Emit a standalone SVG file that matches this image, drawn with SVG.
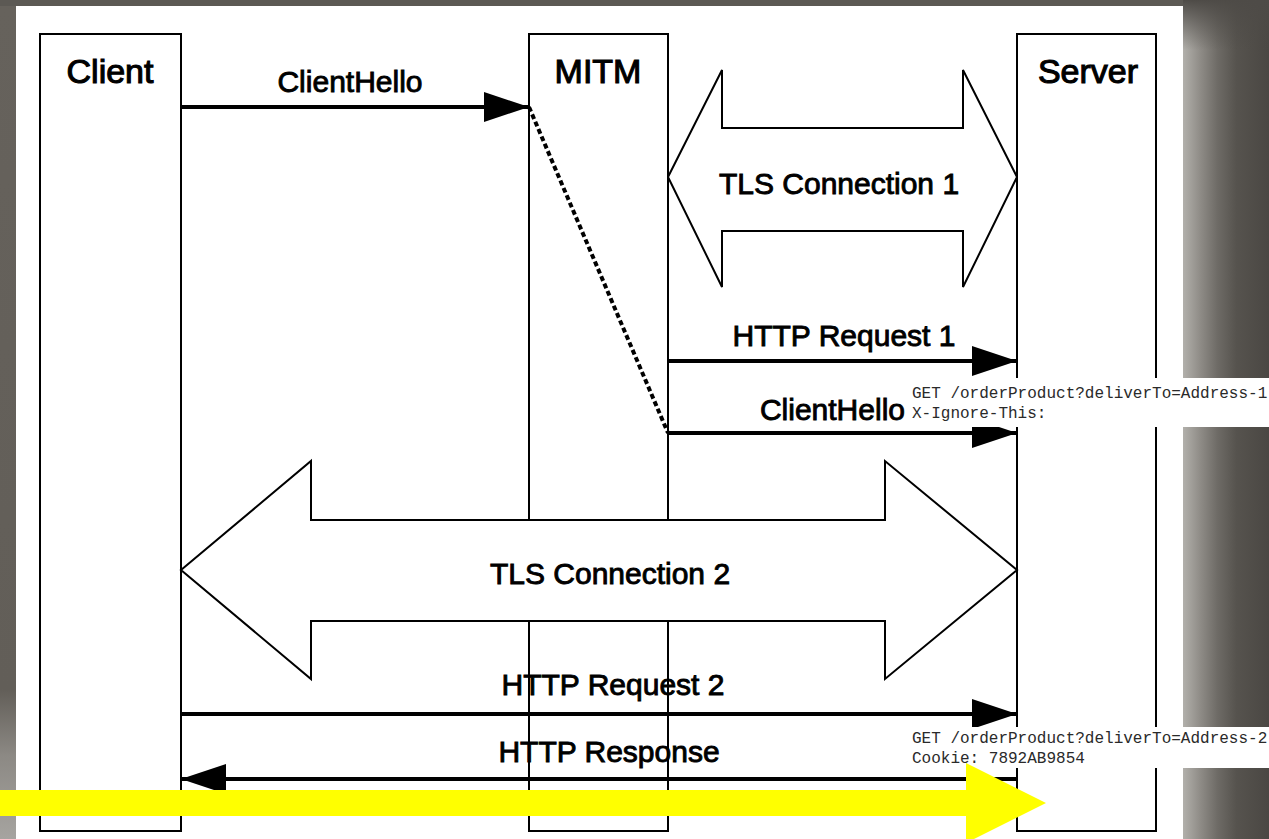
<svg xmlns="http://www.w3.org/2000/svg" width="1269" height="839" viewBox="0 0 1269 839">
  <style>
    .life { fill: #ffffff; stroke: #000000; stroke-width: 2; }
    .head { font-family: "Liberation Sans", Arial, sans-serif; font-size: 34px; fill: #000; stroke: #000; stroke-width: 1.1; text-anchor: middle; }
    .lbl { font-family: "Liberation Sans", Arial, sans-serif; font-size: 30px; fill: #000; stroke: #000; stroke-width: 0.9; text-anchor: middle; }
    .fat { fill: #ffffff; stroke: #000000; stroke-width: 2; stroke-linejoin: miter; }
    .msg { fill: none; stroke: #000000; stroke-width: 4; }
    .dot { fill: none; stroke: #000000; stroke-width: 4; stroke-dasharray: 5 3; }
    .mono { font-family: "Liberation Mono", "Courier New", monospace; font-size: 16px; fill: #2a2a2a; }
  </style>
  <defs>
    <marker id="arrow" markerUnits="userSpaceOnUse" markerWidth="46" markerHeight="32" refX="45" refY="16" orient="auto">
      <path d="M0,1 L45,16 L0,31 Z" fill="#000"/>
    </marker>
    <linearGradient id="rightFade" x1="0" y1="0" x2="1" y2="0">
      <stop offset="0" stop-color="#b2b0ab"/>
      <stop offset="0.2" stop-color="#8f8c87"/>
      <stop offset="0.4" stop-color="#6e6b66"/>
      <stop offset="0.62" stop-color="#56534e"/>
      <stop offset="1" stop-color="#4a4743"/>
    </linearGradient>
    <linearGradient id="topShade" x1="0" y1="0" x2="0" y2="1">
      <stop offset="0" stop-color="#4e4b47" stop-opacity="1"/>
      <stop offset="1" stop-color="#4e4b47" stop-opacity="0"/>
    </linearGradient>
    <linearGradient id="leftFade" x1="0" y1="0" x2="0" y2="1">
      <stop offset="0" stop-color="#66625c"/>
      <stop offset="0.82" stop-color="#625e58"/>
      <stop offset="0.9" stop-color="#8c8984"/>
      <stop offset="1" stop-color="#a6a4a0"/>
    </linearGradient>
  </defs>

  <!-- backdrop -->
  <rect x="0" y="0" width="1269" height="839" fill="#5c5954"/>
  <rect x="0" y="6" width="16" height="833" fill="url(#leftFade)"/>
  <rect x="1183" y="0" width="86" height="839" fill="url(#rightFade)"/>
  <rect x="1183" y="0" width="86" height="50" fill="url(#topShade)"/>
  <rect x="16" y="6" width="1167" height="833" fill="#ffffff"/>

  <!-- lifelines -->
  <g id="client">
    <rect class="life" x="40" y="34" width="141" height="797"/>
    <text class="head" x="110" y="83">Client</text>
  </g>
  <g id="mitm">
    <rect class="life" x="529" y="34" width="139" height="797"/>
    <text class="head" x="598" y="83">MITM</text>
  </g>
  <g id="server">
    <rect class="life" x="1017" y="34" width="139" height="797"/>
    <text class="head" x="1088" y="83">Server</text>
  </g>

  <!-- TLS sessions -->
  <g id="tls1">
    <polygon class="fat" points="668,177 722,70 722,128 963,128 963,70 1017,177 963,287 963,231 722,231 722,287"/>
    <text class="lbl" x="839" y="194">TLS Connection 1</text>
  </g>
  <g id="tls2">
    <polygon class="fat" points="181,570 311,461 311,520 885,520 885,461 1017,570 885,679 885,621 311,621 311,679"/>
    <text class="lbl" x="610" y="584">TLS Connection 2</text>
  </g>

  <!-- messages -->
  <g id="connectors">
    <line class="msg" x1="181" y1="107" x2="529" y2="107" marker-end="url(#arrow)"/>
    <text class="lbl" x="350" y="92">ClientHello</text>

    <line class="dot" x1="529" y1="107" x2="668" y2="433"/>

    <line class="msg" x1="668" y1="361" x2="1017" y2="361" marker-end="url(#arrow)"/>
    <text class="lbl" x="844" y="346">HTTP Request 1</text>

    <line class="msg" x1="668" y1="433" x2="1017" y2="433" marker-end="url(#arrow)"/>
    <text class="lbl" x="905" y="420" style="text-anchor:end">ClientHello</text>

    <line class="msg" x1="181" y1="714" x2="1017" y2="714" marker-end="url(#arrow)"/>
    <text class="lbl" x="613" y="695">HTTP Request 2</text>

    <line class="msg" x1="1017" y1="779" x2="181" y2="779" marker-end="url(#arrow)"/>
    <text class="lbl" x="609" y="762">HTTP Response</text>
  </g>

  <!-- request payloads -->
  <g id="payload1">
    <rect x="907" y="378" width="362" height="49" fill="#ffffff"/>
    <text class="mono" x="912" y="398">GET /orderProduct?deliverTo=Address-1</text>
    <text class="mono" x="912" y="418">X-Ignore-This:</text>
  </g>
  <g id="payload2">
    <rect x="905" y="727" width="364" height="41" fill="#ffffff"/>
    <text class="mono" x="912" y="743">GET /orderProduct?deliverTo=Address-2</text>
    <text class="mono" x="912" y="763">Cookie: 7892AB9854</text>
  </g>

  <!-- highlight arrow -->
  <g id="highlight">
    <polygon points="0,790 966,790 966,763 1046,803 966,843 966,816 0,816" fill="#ffff00"/>
  </g>
</svg>
